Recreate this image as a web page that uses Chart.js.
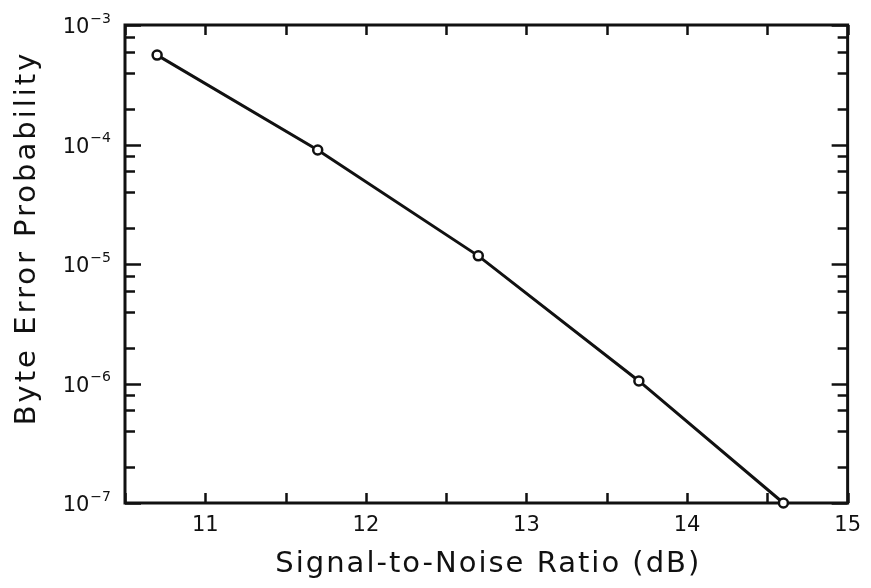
<!DOCTYPE html>
<html>
<head>
<meta charset="utf-8">
<script src="https://cdn.jsdelivr.net/npm/chart.js@4"></script>
<style>
  html, body { margin: 0; padding: 0; background: #fff; }
  #wrap { width: 871px; height: 588px; }
</style>
</head>
<body>
<div id="wrap"><canvas id="berChart" width="871" height="588"></canvas></div>
<script>
// values
const snrDb = [10.7, 11.7, 12.7, 13.7, 14.6];
const byteErrorProb = [5.6e-4, 9.0e-5, 1.17e-5, 1.05e-6, 1.0e-7];

// axis ticks
const xTickValues = [10.5, 11, 11.5, 12, 12.5, 13, 13.5, 14, 14.5, 15];
const yDecades = [-7, -6, -5, -4, -3];
const yMinorSteps = [2, 4, 6, 8];

const xTitle = 'Signal-to-Noise Ratio (dB)';
const yTitle = 'Byte Error Probability';

const ink = '#111';

// frame, inward ticks, power-of-ten labels and axis titles
const framePlugin = {
  id: 'frame',
  beforeDatasetsDraw(chart) {
    const { ctx, chartArea: a, scales } = chart;
    const xs = scales.x, ys = scales.y;
    ctx.save();
    ctx.strokeStyle = ink;
    ctx.lineCap = 'butt';

    // ticks
    ctx.lineWidth = 2.5;
    ctx.beginPath();
    xTickValues.forEach(v => {
      const px = Math.round(xs.getPixelForValue(v)) + 0.5;
      ctx.moveTo(px, a.bottom); ctx.lineTo(px, a.bottom - 10);
      ctx.moveTo(px, a.top); ctx.lineTo(px, a.top + 10);
    });
    yDecades.forEach(d => {
      const py = Math.round(ys.getPixelForValue(Math.pow(10, d))) + 0.5;
      ctx.moveTo(a.left, py); ctx.lineTo(a.left + 16, py);
      ctx.moveTo(a.right, py); ctx.lineTo(a.right - 16, py);
      if (d < -3) {
        yMinorSteps.forEach(m => {
          const pm = Math.round(ys.getPixelForValue(m * Math.pow(10, d))) + 0.5;
          ctx.moveTo(a.left, pm); ctx.lineTo(a.left + 10, pm);
          ctx.moveTo(a.right, pm); ctx.lineTo(a.right - 10, pm);
        });
      }
    });
    ctx.stroke();

    // frame
    ctx.lineWidth = 3;
    ctx.strokeRect(a.left, a.top, a.right - a.left, a.bottom - a.top);

    // y tick labels as 10 with a raised exponent
    ctx.fillStyle = ink;
    ctx.textAlign = 'right';
    ctx.textBaseline = 'middle';
    yDecades.forEach(d => {
      const py = ys.getPixelForValue(Math.pow(10, d));
      const sup = '\u2212' + Math.abs(d);
      ctx.font = '14px "DejaVu Sans"';
      const supW = ctx.measureText(sup).width;
      ctx.fillText(sup, 111, py - 6);
      ctx.font = '21px "DejaVu Sans"';
      ctx.fillText('10', 111 - supW - 1, py + 3);
    });

    // axis titles
    ctx.textAlign = 'center';
    ctx.font = '29px "DejaVu Sans"';
    ctx.letterSpacing = '2px';
    ctx.fillText(xTitle, (a.left + a.right) / 2 + 2, 564);
    ctx.translate(27, (a.top + a.bottom) / 2 - 26);
    ctx.rotate(-Math.PI / 2);
    ctx.letterSpacing = '3px';
    ctx.fillText(yTitle, 0, 0);
    ctx.restore();
  }
};

const ctx = document.getElementById('berChart').getContext('2d');
new Chart(ctx, {
  type: 'line',
  data: {
    datasets: [{
      data: snrDb.map((x, i) => ({ x: x, y: byteErrorProb[i] })),
      borderColor: ink,
      borderWidth: 3,
      pointRadius: 4.5,
      pointBorderWidth: 2.5,
      pointBackgroundColor: '#fff',
      pointBorderColor: ink,
      tension: 0,
      clip: false
    }]
  },
  options: {
    responsive: false,
    animation: false,
    layout: { padding: { top: 25, right: 18, left: 0, bottom: 0 } },
    plugins: { legend: { display: false }, tooltip: { enabled: false } },
    scales: {
      x: {
        type: 'linear',
        min: 10.5,
        max: 15,
        grid: { display: false, drawTicks: false },
        border: { display: false },
        ticks: {
          stepSize: 0.5,
          autoSkip: false,
          maxRotation: 0,
          padding: 10,
          color: ink,
          font: { family: 'DejaVu Sans', size: 21 },
          callback: v => Number.isInteger(v) ? String(v) : ''
        },
        afterFit: s => { s.height = 85; }
      },
      y: {
        type: 'logarithmic',
        min: 1e-7,
        max: 1e-3,
        grid: { display: false, drawTicks: false },
        border: { display: false },
        ticks: { display: false },
        afterFit: s => { s.width = 125; }
      }
    }
  },
  plugins: [framePlugin]
});
</script>
</body>
</html>
